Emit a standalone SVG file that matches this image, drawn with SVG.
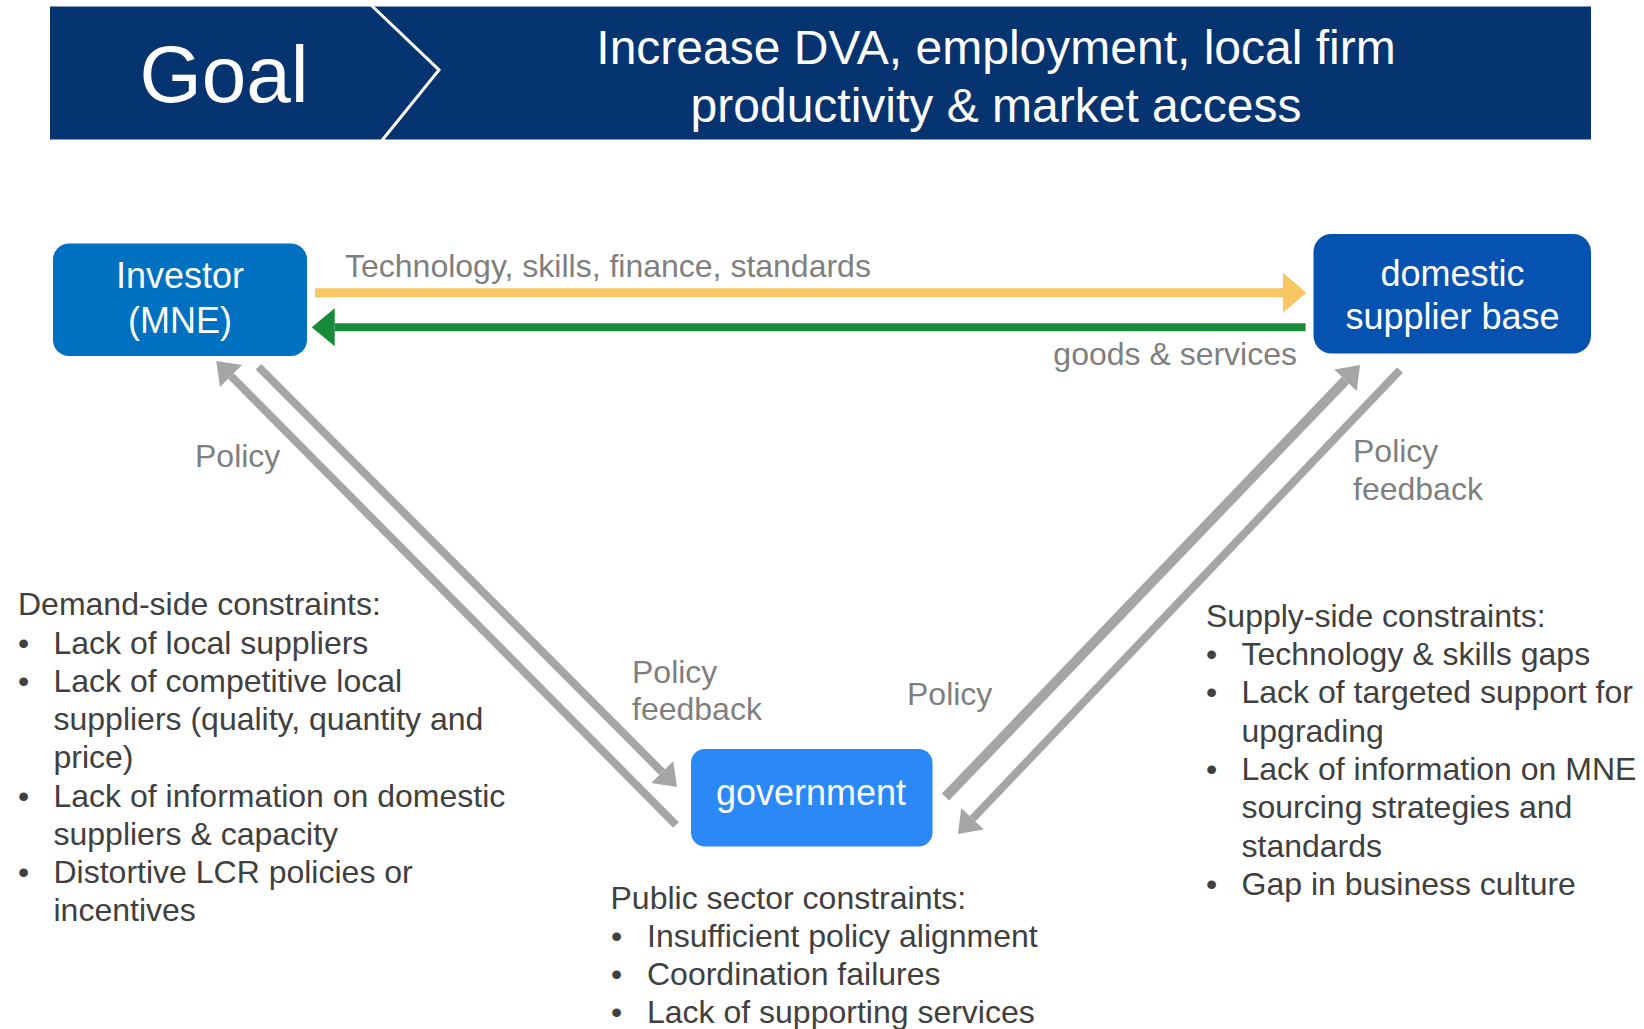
<svg xmlns="http://www.w3.org/2000/svg" width="1644" height="1029" viewBox="0 0 1644 1029">
<style>
text{font-family:"Liberation Sans",Arial,Helvetica,sans-serif}
.w{fill:#FFFFFF}
.lbl{fill:#7F7F7F;font-size:32px}
.con{fill:#404040;font-size:32px}
.nt{fill:#FFFFFF;font-size:36px;text-anchor:middle}
.gray{stroke:#A5A5A5;fill:none}
</style>
<defs>
<marker id="hGray" markerUnits="userSpaceOnUse" markerWidth="24" markerHeight="32" viewBox="0 -16 22 32" refX="0" refY="0" orient="auto" overflow="visible">
<path d="M0,-15.5 L21,0 L0,15.5 Z" fill="#A5A5A5"/>
</marker>
<marker id="hYellow" markerUnits="userSpaceOnUse" markerWidth="26" markerHeight="42" viewBox="0 -21 24 42" refX="0" refY="0" orient="auto" overflow="visible">
<path d="M0,-20 L23.5,0 L0,20 Z" fill="#F9C664"/>
</marker>
<marker id="hGreen" markerUnits="userSpaceOnUse" markerWidth="26" markerHeight="40" viewBox="0 -20 24 40" refX="0" refY="0" orient="auto" overflow="visible">
<path d="M0,-19 L23,0 L0,19 Z" fill="#178B38"/>
</marker>
</defs>
<rect width="1644" height="1029" fill="#FFFFFF"/>

<g id="goal-banner">
<rect x="50" y="6.5" width="1541" height="133" fill="#053470"/>
<polyline points="371,5 439,70 381.5,141" fill="none" stroke="#FFFFFF" stroke-width="3"/>
<text x="224" y="102" class="w" font-size="80" text-anchor="middle">Goal</text>
<text class="w" font-size="48" text-anchor="middle"><tspan x="996" y="64">Increase DVA, employment, local firm</tspan><tspan x="996" y="122">productivity &amp; market access</tspan></text>
</g>

<g id="connectors">
<line x1="315" y1="292.8" x2="1283" y2="292.8" stroke="#F9C664" stroke-width="9" marker-end="url(#hYellow)"/>
<line x1="1305.6" y1="327.3" x2="334.7" y2="327.3" stroke="#178B38" stroke-width="8" marker-end="url(#hGreen)"/>
<line class="gray" x1="676" y1="825" x2="231" y2="376" stroke-width="8" marker-end="url(#hGray)"/>
<line class="gray" x1="258.5" y1="366.7" x2="662.2" y2="772.1" stroke-width="8" marker-end="url(#hGray)"/>
<line class="gray" x1="945.5" y1="797" x2="1345.5" y2="380.2" stroke-width="10" marker-end="url(#hGray)"/>
<line class="gray" x1="1400" y1="370" x2="972.5" y2="818.8" stroke-width="8" marker-end="url(#hGray)"/>
<text class="lbl" x="345" y="277">Technology, skills, finance, standards</text>
<text class="lbl" x="1297" y="365" text-anchor="end">goods &amp; services</text>
<text class="lbl" x="195" y="467">Policy</text>
<text class="lbl"><tspan x="632" y="683">Policy</tspan><tspan x="632" y="720">feedback</tspan></text>
<text class="lbl" x="907" y="705">Policy</text>
<text class="lbl"><tspan x="1353" y="461.5">Policy</tspan><tspan x="1353" y="500">feedback</tspan></text>
</g>

<g id="investor">
<rect x="53" y="243.5" width="254" height="112.5" rx="16" fill="#0070C0"/>
<text class="nt"><tspan x="180" y="288">Investor</tspan><tspan x="180" y="333">(MNE)</tspan></text>
</g>

<g id="supplier">
<rect x="1313.5" y="234" width="277.5" height="119.5" rx="18" fill="#0652B1"/>
<text class="nt"><tspan x="1452.5" y="285.5">domestic</tspan><tspan x="1452.5" y="328.5">supplier base</tspan></text>
</g>

<g id="government">
<rect x="691" y="749" width="241.5" height="97.5" rx="14" fill="#2B88F7"/>
<text class="nt" x="811" y="805" font-size="37">government</text>
</g>

<g id="demand-constraints">
<text class="con">
<tspan x="18" y="615">Demand-side constraints:</tspan>
<tspan x="18" y="653.5">•</tspan><tspan x="53.5" y="653.5">Lack of local suppliers</tspan>
<tspan x="18" y="691.5">•</tspan><tspan x="53.5" y="691.5">Lack of competitive local</tspan>
<tspan x="53.5" y="730">suppliers (quality, quantity and</tspan>
<tspan x="53.5" y="768">price)</tspan>
<tspan x="18" y="806.5">•</tspan><tspan x="53.5" y="806.5">Lack of information on domestic</tspan>
<tspan x="53.5" y="844.5">suppliers &amp; capacity</tspan>
<tspan x="18" y="882.5">•</tspan><tspan x="53.5" y="882.5">Distortive LCR policies or</tspan>
<tspan x="53.5" y="920.5">incentives</tspan>
</text>
</g>

<g id="supply-constraints">
<text class="con">
<tspan x="1206" y="626.5">Supply-side constraints:</tspan>
<tspan x="1206" y="664.5">•</tspan><tspan x="1241.5" y="664.5">Technology &amp; skills gaps</tspan>
<tspan x="1206" y="703">•</tspan><tspan x="1241.5" y="703">Lack of targeted support for</tspan>
<tspan x="1241.5" y="741.5">upgrading</tspan>
<tspan x="1206" y="779.5">•</tspan><tspan x="1241.5" y="779.5">Lack of information on MNE</tspan>
<tspan x="1241.5" y="818">sourcing strategies and</tspan>
<tspan x="1241.5" y="856.5">standards</tspan>
<tspan x="1206" y="894.5">•</tspan><tspan x="1241.5" y="894.5">Gap in business culture</tspan>
</text>
</g>

<g id="public-constraints">
<text class="con">
<tspan x="610.5" y="908.5">Public sector constraints:</tspan>
<tspan x="611" y="946.5">•</tspan><tspan x="647" y="946.5">Insufficient policy alignment</tspan>
<tspan x="611" y="984.5">•</tspan><tspan x="647" y="984.5">Coordination failures</tspan>
<tspan x="611" y="1023">•</tspan><tspan x="647" y="1023">Lack of supporting services</tspan>
</text>
</g>
</svg>
